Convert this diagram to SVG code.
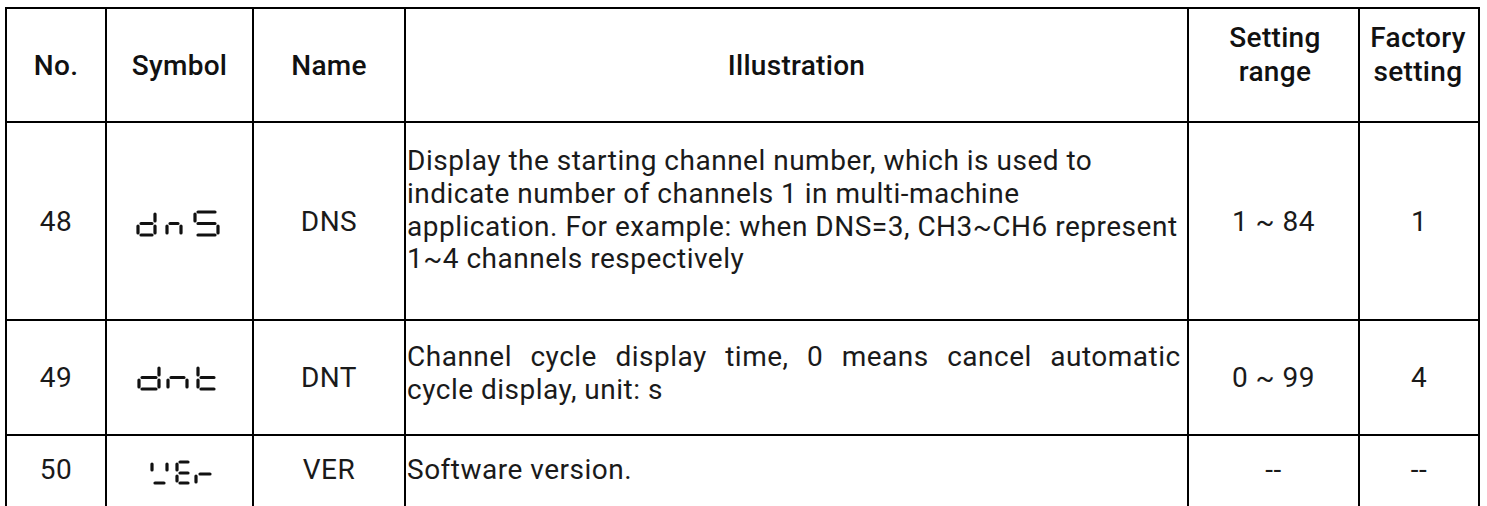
<svg xmlns="http://www.w3.org/2000/svg" width="1487" height="506" viewBox="0 0 1487 506">
<style>
.grid line{stroke:#000;stroke-width:2}
.h{font-family:Roboto,"Noto Sans","Liberation Sans",sans-serif;font-size:28px;font-weight:500;fill:#111;text-anchor:middle;letter-spacing:0.3px}
.t{font-family:Roboto,"Noto Sans","Liberation Sans",sans-serif;font-size:28px;fill:#1a1a1a;letter-spacing:0.5px}
.c{text-anchor:middle}
.seg{stroke:#111;stroke-width:3.2;stroke-linecap:round;fill:none}
</style>
<rect width="1487" height="506" fill="#fff"/>
<g id="grid" class="grid">
<line x1="6" y1="7" x2="6" y2="506"/>
<line x1="106" y1="7" x2="106" y2="506"/>
<line x1="253" y1="7" x2="253" y2="506"/>
<line x1="405" y1="7" x2="405" y2="506"/>
<line x1="1188" y1="7" x2="1188" y2="506"/>
<line x1="1359" y1="7" x2="1359" y2="506"/>
<line x1="1479" y1="7" x2="1479" y2="506"/>
<line x1="5" y1="8" x2="1480" y2="8"/>
<line x1="5" y1="122" x2="1480" y2="122"/>
<line x1="5" y1="320" x2="1480" y2="320"/>
<line x1="5" y1="435" x2="1480" y2="435"/>
</g>
<g id="header">
<text class="h" x="56" y="75">No.</text>
<text class="h" x="179.5" y="75">Symbol</text>
<text class="h" x="329" y="75">Name</text>
<text class="h" x="796.5" y="75">Illustration</text>
<text class="h" x="1275" y="47">Setting</text>
<text class="h" x="1275" y="81">range</text>
<text class="h" x="1418" y="47">Factory</text>
<text class="h" x="1418" y="81">setting</text>
</g>
<g id="row48">
<text class="t c" x="56" y="231">48</text>
<g id="sym-dnS" class="seg">
<path d="M155 214V221M155 226V233M141 235H152M138 226V233M141 223.5H152"/>
<path d="M167 226V233M170 223.5H178M181 226V233"/>
<path d="M198 212H215M195 214V221M198 223.5H215M218 226V233M198 235H215"/>
</g>
<text class="t c" x="329" y="231">DNS</text>
<text class="t" x="407" y="170">Display the starting channel number, which is used to</text>
<text class="t" x="407" y="203">indicate number of channels 1 in multi-machine</text>
<text class="t" x="407" y="236">application. For example: when DNS=3, CH3~CH6 represent</text>
<text class="t" x="407" y="268">1~4 channels respectively</text>
<text class="t c" x="1273.5" y="231">1 ~ 84</text>
<text class="t c" x="1419" y="231">1</text>
</g>
<g id="row49">
<text class="t c" x="56" y="387">49</text>
<g id="sym-dnt" class="seg">
<path d="M159 368V375M159 380V387M142 389H156M139 380V387M142 377.5H156"/>
<path d="M168 380V387M171 377.5H184M187 380V387"/>
<path d="M198 368V375M198 380V387M201 377.5H214M201 389H214"/>
</g>
<text class="t c" x="329" y="387">DNT</text>
<text class="t" x="407" y="366" word-spacing="11">Channel cycle display time, 0 means cancel automatic</text>
<text class="t" x="407" y="399">cycle display, unit: s</text>
<text class="t c" x="1273.5" y="387">0 ~ 99</text>
<text class="t c" x="1419" y="387">4</text>
</g>
<g id="row50">
<text class="t c" x="56" y="479">50</text>
<g id="sym-VEr" class="seg">
<path d="M152 464V470M167 464V470M155 483H164"/>
<path d="M177 464V470M177 476V481M180 462H188M180 473H188M180 483H188"/>
<path d="M196 476V482M200 474H210"/>
</g>
<text class="t c" x="329" y="479">VER</text>
<text class="t" x="407" y="479">Software version.</text>
<text class="t c" x="1273.5" y="479">--</text>
<text class="t c" x="1419" y="479">--</text>
</g>
</svg>
